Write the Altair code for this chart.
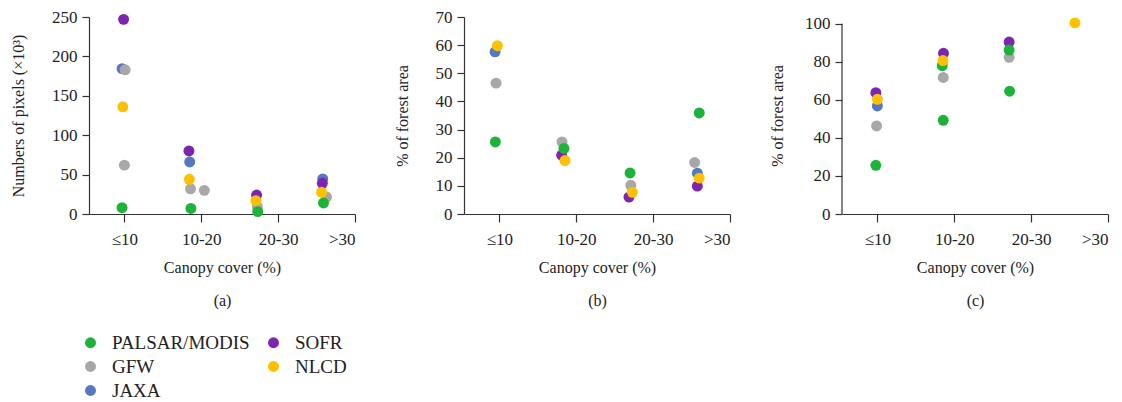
import altair as alt
import pandas as pd

FONT = "Liberation Serif"

# Categories and colours
series_names = ["PALSAR/MODIS", "GFW", "JAXA", "SOFR", "NLCD"]
series_colors = ["#1db33a", "#a9a7a7", "#5578c0", "#7d25ae", "#ffc000"]

tick_labels = ["≤10", "10-20", "20-30", ">30"]
tick_values = [0, 1, 2, 3]

# Panel (a): numbers of pixels (x10^3); x = position along canopy-cover axis
a_blue_x = [-0.03, 0.85, 2.58]
a_blue_y = [184.5, 66, 44.5]
a_purple_x = [-0.01, 0.84, 1.72, 2.575]
a_purple_y = [247, 80, 24, 39]
a_grey_x = [0.01, 0.0, 0.86, 1.04, 1.73, 2.63]
a_grey_y = [183, 62, 32, 30, 9, 21.5]
a_green_x = [-0.03, 0.866, 1.735, 2.59]
a_green_y = [8, 7, 3, 14]
a_yellow_x = [-0.02, 0.845, 1.71, 2.565]
a_yellow_y = [136, 44, 17, 27.5]

# Panel (b): % of forest area
b_blue_x = [-0.056, 2.575]
b_blue_y = [57.6, 14.5]
b_purple_x = [0.81, 1.686, 2.575]
b_purple_y = [20.9, 6.0, 9.9]
b_grey_x = [-0.043, 0.815, 1.71, 2.54]
b_grey_y = [46.5, 25.6, 10.2, 18.3]
b_green_x = [-0.052, 0.84, 1.70, 2.60]
b_green_y = [25.6, 23.3, 14.6, 35.9]
b_yellow_x = [-0.026, 0.854, 1.73, 2.60]
b_yellow_y = [59.8, 19.0, 7.7, 12.75]

# Panel (c): % of forest area
c_blue_x = [0.0]
c_blue_y = [56.8]
c_purple_x = [-0.02, 0.86, 1.714]
c_purple_y = [63.8, 84.5, 90.4]
c_grey_x = [-0.01, 0.857, 1.714]
c_grey_y = [46.3, 71.8, 82.4]
c_green_x = [-0.02, 0.844, 0.857, 1.714, 1.72]
c_green_y = [25.6, 78.0, 49.3, 86.2, 64.6]
c_yellow_x = [0.0, 0.853, 2.57]
c_yellow_y = [60.3, 80.7, 100.5]


def frame(blue, purple, grey, green, yellow):
    rows = []
    for name, (xs, ys) in [("JAXA", blue), ("SOFR", purple), ("GFW", grey),
                           ("PALSAR/MODIS", green), ("NLCD", yellow)]:
        for x, y in zip(xs, ys):
            rows.append({"x": x, "y": y, "series": name})
    return pd.DataFrame(rows)


df_a = frame((a_blue_x, a_blue_y), (a_purple_x, a_purple_y), (a_grey_x, a_grey_y),
             (a_green_x, a_green_y), (a_yellow_x, a_yellow_y))
df_b = frame((b_blue_x, b_blue_y), (b_purple_x, b_purple_y), (b_grey_x, b_grey_y),
             (b_green_x, b_green_y), (b_yellow_x, b_yellow_y))
df_c = frame((c_blue_x, c_blue_y), (c_purple_x, c_purple_y), (c_grey_x, c_grey_y),
             (c_green_x, c_green_y), (c_yellow_x, c_yellow_y))

label_expr = " : ".join(
    f"datum.value == {v} ? '{t}'" for v, t in zip(tick_values, tick_labels)
) + " : ''"

legend = alt.Legend(
    title=None, orient="none", legendX=-8, legendY=316, columns=2,
    direction="vertical",
    symbolType="circle", symbolSize=120, labelFont=FONT, labelFontSize=19,
    labelColor="#222", columnPadding=14, rowPadding=4, labelOffset=12,
    symbolStrokeWidth=0,
)


def panel(df, ymax, ystep, ytitle, caption, ytitle_pad, ydom_max=None):
    x = alt.X(
        "x:Q",
        scale=alt.Scale(domain=[-0.46, 3], nice=False, zero=False),
        axis=alt.Axis(values=tick_values, labelExpr=label_expr, grid=False,
                      title=["Canopy cover (%)", caption], titleLineHeight=33,
                      tickSize=8, labelPadding=9, titlePadding=12),
    )
    y = alt.Y(
        "y:Q",
        scale=alt.Scale(domain=[0, ydom_max or ymax], nice=False),
        axis=alt.Axis(values=list(range(0, ymax + 1, ystep)), grid=False,
                      title=ytitle, tickSize=7, labelPadding=5,
                      titlePadding=ytitle_pad, domain=ydom_max is None),
    )
    pts = alt.Chart(df).mark_circle(size=120, opacity=1).encode(
        x=x, y=y,
        color=alt.Color("series:N", sort=None,
                        scale=alt.Scale(domain=series_names, range=series_colors),
                        legend=legend),
        order=alt.Order("idx:Q"),
    ).transform_window(idx="row_number()")
    layers = [pts]
    if ydom_max is not None:
        rule = alt.Chart(pd.DataFrame({"y": [0], "y2": [ymax]})).mark_rule(
            color="#333", strokeWidth=1.2
        ).encode(x=alt.value(0), y=y, y2="y2:Q")
        layers = [rule, pts]
    return alt.layer(*layers).properties(width=266, height=197)


pa = panel(df_a, 250, 50, "Numbers of pixels (×10³)", "(a)", 25)
pb = panel(df_b, 70, 10, "% of forest area", "(b)", 25)
pc = panel(df_c, 100, 20, "% of forest area", "(c)", 19, ydom_max=103.6)

chart = alt.hconcat(pa, pb, pc, spacing=38).properties(
    padding={"left": 2, "top": 0, "right": 2, "bottom": 2}
).configure_view(stroke=None).configure_axis(
    labelFont=FONT, titleFont=FONT, labelFontSize=17, titleFontSize=16,
    titleFontWeight="normal", labelColor="#222", titleColor="#222",
    domainColor="#333", tickColor="#333", domainWidth=1.2, tickWidth=1.2,
)

chart.save("out.html", embed_options={"renderer": "svg", "actions": False})
